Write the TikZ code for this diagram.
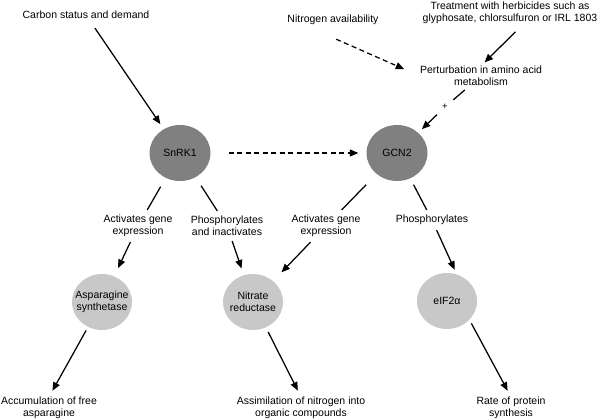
\documentclass[tikz,border=0pt]{standalone}
\usepackage{fontspec}
\setmainfont{Liberation Sans}
\usetikzlibrary{arrows.meta,shapes.geometric}
\definecolor{darkgrey}{RGB}{128,128,128}
\definecolor{lightgrey}{RGB}{200,200,200}
\begin{document}
\begin{tikzpicture}[x=1pt,y=-1pt,
  every node/.style={font=\fontsize{10.5}{12}\selectfont},
  txt/.style={align=center, inner sep=0pt},
  lbl/.style={align=center, inner sep=5pt},
  darkell/.style={ellipse, fill=darkgrey, minimum width=61pt, minimum height=56pt, inner sep=0pt},
  lightell/.style={ellipse, fill=lightgrey, minimum width=60pt, minimum height=56pt, inner sep=0pt},
  arr/.style={-{Triangle[length=8.5pt,width=7pt]}, line width=1.25pt},
  ln/.style={line width=1.25pt},
  dasharr/.style={arr, dash pattern=on 5pt off 3.5pt}]
\useasboundingbox (0,0) rectangle (602,420);

% text nodes
\node[txt] (carbon) at (86,15) {Carbon status and demand};
\node[txt] (nitro) at (333,20) {Nitrogen availability};
\node[txt] (herb) at (510,13) {Treatment with herbicides such as\\glyphosate, chlorsulfuron or IRL 1803};
\node[txt] (pert) at (481,76) {Perturbation in amino acid\\metabolism};
\node[txt, font=\fontsize{9.5}{10}\selectfont] (plus) at (445,107) {+};

% enzymes
\node[darkell] (snrk) at (180,153) {};
\node[txt] (snrkt) at (snrk) {SnRK1};
\node[darkell] (gcn) at (397,153) {};
\node[txt] (gcnt) at (gcn) {GCN2};
\node[lightell] (asp) at (102,302) {};
\node[txt] (aspt) at (asp) {Asparagine\\synthetase};
\node[lightell] (nr) at (253,302) {};
\node[txt] (nrt) at (nr) {Nitrate\\reductase};
\node[lightell] (eif) at (447,301) {};
\node[txt] (eift) at (eif) {eIF2α};

% edge labels
\node[lbl] (act1) at (138,226) {Activates gene\\expression};
\node[lbl] (phos1) at (227,226) {Phosphorylates\\and inactivates};
\node[lbl] (act2) at (326,226) {Activates gene\\expression};
\node[lbl] (phos2) at (432,220) {Phosphorylates};

% outcomes
\node[txt] (accum) at (49,408) {Accumulation of free\\asparagine};
\node[txt] (assim) at (301,408) {Assimilation of nitrogen into\\organic compounds};
\node[txt] (rate) at (511,408) {Rate of protein\\synthesis};

% connectors
\draw[arr, shorten <=11pt, shorten >=6pt] (carbon) -- (snrk);
\draw[dasharr, shorten <=35pt, shorten >=17pt] (nitro.190) -- (pert.west);
\draw[arr, shorten <=11pt, shorten >=5pt] (herb.-40) -- (pert.north);
\draw[ln, shorten <=6pt, shorten >=7pt] (pert) -- (plus);
\draw[arr, shorten <=7pt, shorten >=5pt] (plus) -- (gcn);
\draw[dasharr, shorten <=18pt, shorten >=8pt] (snrk) -- (gcn);

\draw[ln, shorten <=10pt] (snrk) -- (act1);
\draw[arr, shorten >=9pt] (act1) -- (asp);
\draw[ln, shorten <=10pt] (snrk) -- (phos1);
\draw[arr, shorten >=7pt] (phos1) -- (nr);
\draw[ln, shorten <=15pt] (gcn) -- (act2);
\draw[arr, shorten >=12pt] (act2) -- (nr);
\draw[ln, shorten <=7pt] (gcn) -- (phos2);
\draw[arr, shorten >=5pt] (phos2) -- (eif.70);

\draw[arr, shorten <=4pt, shorten >=7pt] (asp) -- (accum.north);
\draw[arr, shorten <=5pt, shorten >=7pt] (nr) -- (assim.north);
\draw[arr, shorten <=4pt, shorten >=7pt] (eif.-40) -- (rate.north);
\end{tikzpicture}
\end{document}
